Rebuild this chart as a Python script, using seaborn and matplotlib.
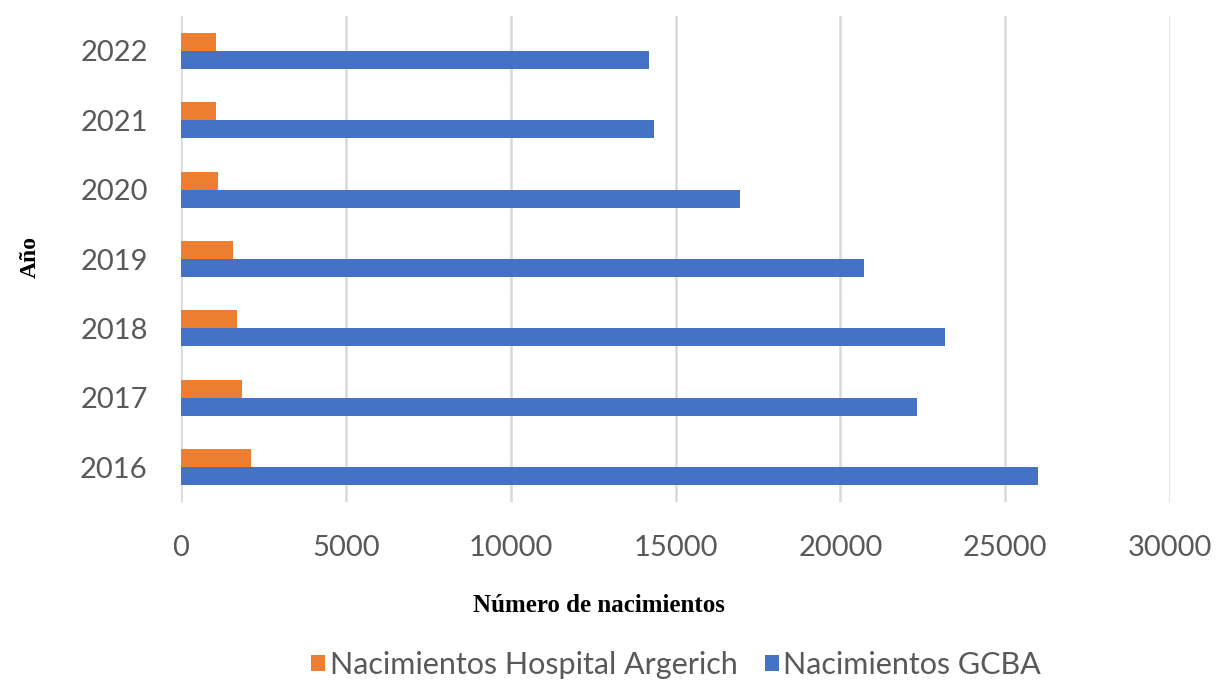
import matplotlib
matplotlib.use("Agg")
import matplotlib.pyplot as plt
from matplotlib.patches import Patch
import pandas as pd
import seaborn as sns

# Births per year: Hospital Argerich vs. whole city (GCBA)
years = ["2022", "2021", "2020", "2019", "2018", "2017", "2016"]
argerich = [1060, 1060, 1110, 1590, 1690, 1850, 2110]
gcba = [14190, 14340, 16950, 20730, 23180, 22330, 26000]
series_names = ["Nacimientos Hospital Argerich", "Nacimientos GCBA"]
x_ticks = [0, 5000, 10000, 15000, 20000, 25000, 30000]

colors = ["#ED7D31", "#4472C4"]

df = pd.DataFrame({
    "Año": years * 2,
    "Nacimientos": argerich + gcba,
    "Serie": [series_names[0]] * len(years) + [series_names[1]] * len(years),
})

sns.set_theme(style="white")
plt.rcParams["font.family"] = ["Lato", "DejaVu Sans"]

fig = plt.figure(figsize=(12.17, 6.86), dpi=100)
ax = fig.add_axes([181 / 1217, 1 - 502 / 686, (1170 - 181) / 1217, (502 - 16) / 686])

sns.barplot(
    data=df, x="Nacimientos", y="Año", hue="Serie",
    order=years, hue_order=series_names, palette=colors,
    orient="h", width=0.52, saturation=1, linewidth=0, ax=ax, legend=False,
)

ax.set_xlim(0, 30000)
ax.set_xticks(x_ticks)
ax.set_xticklabels([str(t) for t in x_ticks])
ax.xaxis.grid(True, color="#D9D9D9", linewidth=1.8)
ax.yaxis.grid(False)
ax.set_axisbelow(True)
for side in ["top", "right", "bottom", "left"]:
    ax.spines[side].set_visible(False)
ax.tick_params(axis="both", length=0, labelsize=21, labelcolor="#595959", pad=24)
ax.set_xlabel("")
ax.set_ylabel("")

fig.text(599 / 1217, 1 - 605 / 686, "Número de nacimientos",
         family="Liberation Serif", fontweight="bold", fontsize=18,
         ha="center", va="center", color="black")
fig.text(30 / 1217, 1 - 257 / 686, "Año",
         family="Liberation Serif", fontweight="bold", fontsize=17,
         rotation=90, ha="center", va="center", color="black")

handles = [Patch(facecolor=c, edgecolor="none") for c in colors]
leg = fig.legend(handles, series_names, loc="center",
                 bbox_to_anchor=(676 / 1217, 1 - 665 / 686), ncol=2,
                 frameon=False, fontsize=22, handlelength=0.45, handleheight=0.45,
                 handletextpad=0.15, columnspacing=0.9)
for t in leg.get_texts():
    t.set_color("#595959")

fig.savefig("out.png", dpi=100, facecolor="white")
